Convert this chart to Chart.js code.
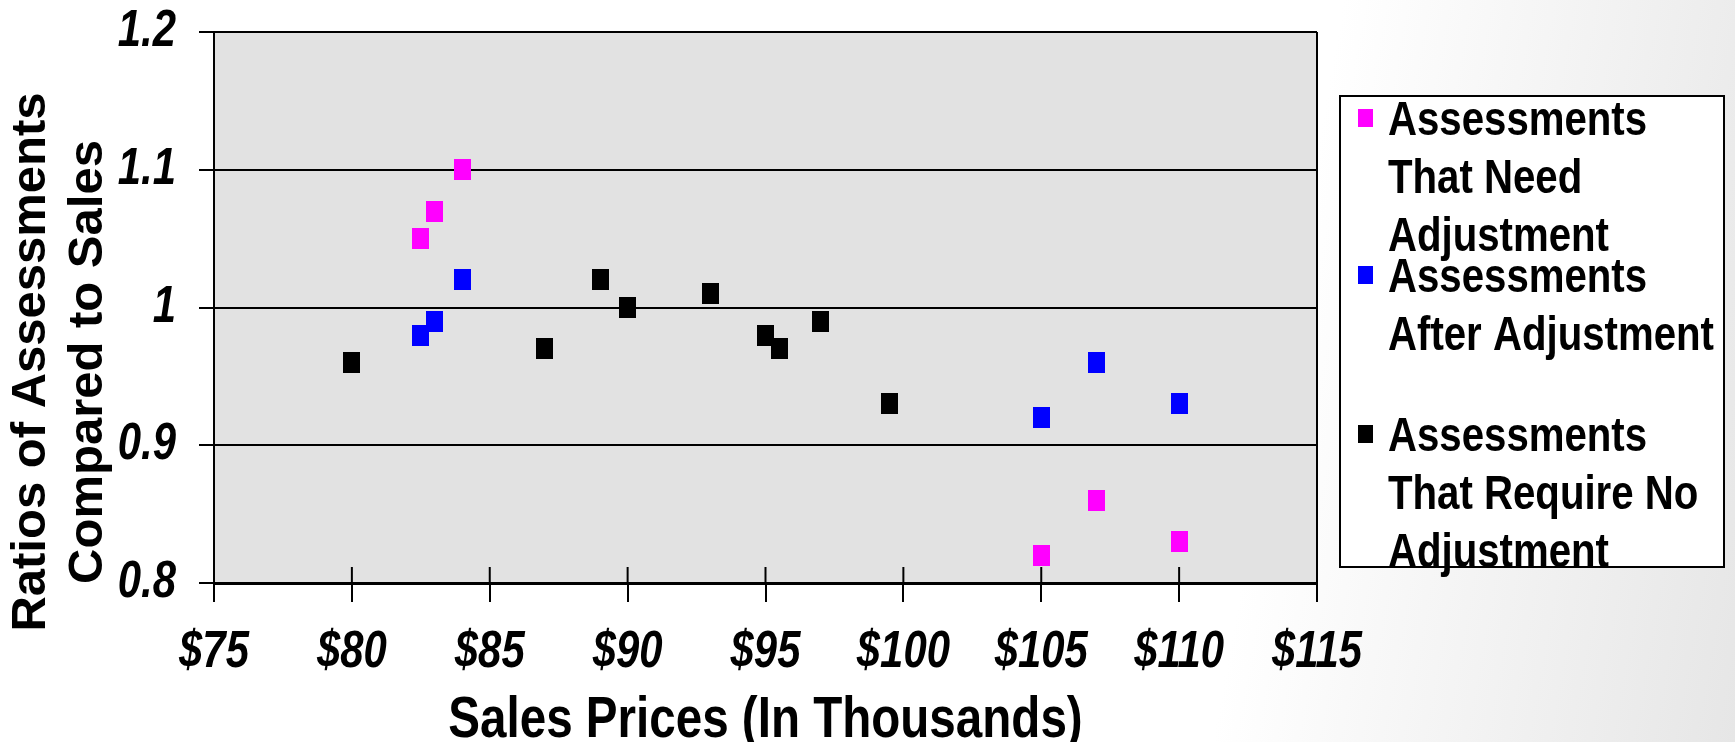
<!DOCTYPE html>
<html>
<head>
<meta charset="utf-8">
<script src="https://cdn.jsdelivr.net/npm/chart.js@4.4.1/dist/chart.umd.min.js"></script>
<style>
  html, body { margin: 0; padding: 0; }
  body {
    width: 1735px; height: 742px; overflow: hidden;
    background: linear-gradient(100deg, #ffffff 72%, #e6e6e6 100%);
  }
  canvas { display: block; }
</style>
</head>
<body>
<canvas id="ratioChart" width="1735" height="742"></canvas>
<script>
// sales price (thousands) and assessment/sale ratio
const needX = [82.5, 83, 84, 105, 107, 110];
const needY = [1.05, 1.07, 1.10, 0.82, 0.86, 0.83];
const afterX = [82.5, 83, 84, 105, 107, 110];
const afterY = [0.98, 0.99, 1.02, 0.92, 0.96, 0.93];
const noAdjX = [80, 87, 89, 90, 93, 95, 95.5, 97, 99.5];
const noAdjY = [0.96, 0.97, 1.02, 1.00, 1.01, 0.98, 0.97, 0.99, 0.93];

const xTickValues = [75, 80, 85, 90, 95, 100, 105, 110, 115];
const xTickLabels = ['$75', '$80', '$85', '$90', '$95', '$100', '$105', '$110', '$115'];
const yTickValues = [0.8, 0.9, 1.0, 1.1, 1.2];
const yTickLabels = ['0.8', '0.9', '1', '1.1', '1.2'];

const seriesNames = [
  ['Assessments', 'That Need', 'Adjustment'],
  ['Assessments', 'After Adjustment'],
  ['Assessments', 'That Require No', 'Adjustment']
];
const seriesColors = ['#ff00ff', '#0000ff', '#000000'];
const xTitle = 'Sales Prices (In Thousands)';
const yTitle = ['Ratios of Assessments', 'Compared to Sales'];

const FONT = '"Liberation Sans", Arial, sans-serif';
const SQUEEZE = 0.82; // no narrow face installed, so squeeze the regular one

function toPoints(xs, ys) {
  return xs.map((x, i) => ({ x: x, y: ys[i] }));
}

function marker(color) {
  const c = document.createElement('canvas');
  c.width = 17; c.height = 21;
  const g = c.getContext('2d');
  g.fillStyle = color;
  g.fillRect(0, 0, 17, 21);
  return c;
}

function narrowText(ctx, text, x, y, align) {
  ctx.save();
  ctx.translate(x, y);
  ctx.scale(SQUEEZE, 1);
  ctx.textAlign = align;
  ctx.fillText(text, 0, 0);
  ctx.restore();
}

const frame = {
  id: 'frame',
  beforeDraw(chart) {
    const { ctx, chartArea: a } = chart;
    ctx.save();
    ctx.fillStyle = '#e2e2e2';
    ctx.fillRect(a.left, a.top, a.right - a.left, a.bottom - a.top);
    ctx.restore();
  },
  beforeDatasetsDraw(chart) {
    const { ctx, chartArea: a, scales } = chart;
    ctx.save();
    ctx.strokeStyle = '#000';
    ctx.lineWidth = 2;
    // right edge of the plot
    ctx.beginPath();
    ctx.moveTo(a.right, a.top);
    ctx.lineTo(a.right, a.bottom);
    ctx.stroke();
    // x tick marks cross the axis line
    scales.x.ticks.forEach(t => {
      const px = scales.x.getPixelForValue(t.value);
      ctx.beginPath();
      ctx.moveTo(px, a.bottom - 16);
      ctx.lineTo(px, a.bottom);
      ctx.stroke();
    });
    ctx.restore();
  },
  afterDraw(chart) {
    const { ctx, chartArea: a, scales } = chart;
    ctx.save();
    ctx.fillStyle = '#000';
    ctx.textBaseline = 'middle';

    // tick labels
    ctx.font = 'italic bold 51px ' + FONT;
    xTickValues.forEach((v, i) => narrowText(ctx, xTickLabels[i], scales.x.getPixelForValue(v), 653, 'center'));
    yTickValues.forEach((v, i) => narrowText(ctx, yTickLabels[i], 176, scales.y.getPixelForValue(v), 'right'));

    // y title, rotated, two lines
    ctx.font = 'bold 49px ' + FONT;
    ctx.textAlign = 'center';
    ctx.translate(60, 362);
    ctx.rotate(-Math.PI / 2);
    yTitle.forEach((line, i) => ctx.fillText(line, 0, (i - 0.5) * 57));
    ctx.setTransform(1, 0, 0, 1, 0, 0);

    // x title
    ctx.font = 'bold 58px ' + FONT;
    narrowText(ctx, xTitle, (a.left + a.right) / 2, 721, 'center');

    // legend box
    ctx.lineWidth = 2;
    ctx.strokeStyle = '#000';
    ctx.fillStyle = '#fff';
    ctx.fillRect(1340, 96, 384, 471);
    ctx.strokeRect(1340, 96, 384, 471);

    const baselines = [135, 292, 451];
    ctx.font = 'bold 49px ' + FONT;
    ctx.textBaseline = 'alphabetic';
    seriesNames.forEach((lines, i) => {
      ctx.fillStyle = seriesColors[i];
      ctx.fillRect(1358, baselines[i] - 26, 15, 18);
      ctx.fillStyle = '#000';
      lines.forEach((line, j) => narrowText(ctx, line, 1388, baselines[i] + j * 58, 'left'));
    });
    ctx.restore();
  }
};

new Chart(document.getElementById('ratioChart'), {
  type: 'scatter',
  data: {
    datasets: [
      { label: seriesNames[0].join(' '), data: toPoints(needX, needY), pointStyle: marker(seriesColors[0]), backgroundColor: seriesColors[0] },
      { label: seriesNames[1].join(' '), data: toPoints(afterX, afterY), pointStyle: marker(seriesColors[1]), backgroundColor: seriesColors[1] },
      { label: seriesNames[2].join(' '), data: toPoints(noAdjX, noAdjY), pointStyle: marker(seriesColors[2]), backgroundColor: seriesColors[2] }
    ]
  },
  options: {
    responsive: false,
    animation: false,
    devicePixelRatio: 1,
    layout: { padding: { top: 32, right: 418, bottom: 0, left: 0 } },
    plugins: { legend: { display: false }, tooltip: { enabled: false } },
    elements: { point: { radius: 10 } },
    scales: {
      x: {
        type: 'linear',
        min: 75, max: 115,
        afterFit: s => { s.height = 159; },
        afterBuildTicks: s => { s.ticks = xTickValues.map(v => ({ value: v })); },
        ticks: { display: false },
        grid: { drawOnChartArea: false, color: '#000', lineWidth: 2, tickLength: 19 },
        border: { display: true, color: '#000', width: 3 }
      },
      y: {
        min: 0.8, max: 1.2,
        afterFit: s => { s.width = 214; },
        afterBuildTicks: s => { s.ticks = yTickValues.map(v => ({ value: v })); },
        ticks: { display: false },
        grid: { color: '#000', lineWidth: 2, tickLength: 15 },
        border: { display: true, color: '#000', width: 2 }
      }
    }
  },
  plugins: [frame]
});
</script>
</body>
</html>
